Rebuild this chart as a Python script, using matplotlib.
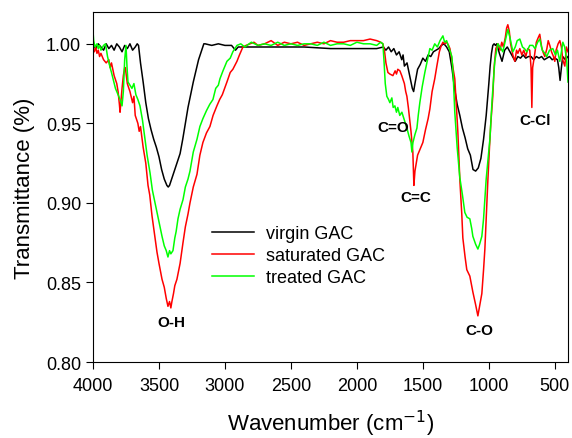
import numpy as np
import matplotlib.pyplot as plt

plt.rcParams["font.family"] = ["Liberation Sans", "DejaVu Sans"]
plt.rcParams["font.size"] = 13
plt.rcParams["xtick.direction"] = "out"
plt.rcParams["ytick.direction"] = "out"
plt.rcParams["xtick.major.size"] = 5
plt.rcParams["ytick.major.size"] = 5

# ---------------------------------------------------------------------------
# data
# ---------------------------------------------------------------------------

virgin_wn = [4000, 3980, 3960, 3940, 3920, 3900, 3880, 3860, 3840, 3820, 3800, 3780,
             3760, 3740, 3720, 3700, 3680, 3665, 3655, 3640, 3620, 3600, 3580, 3560,
             3540, 3520, 3500, 3480, 3460, 3440, 3430, 3420, 3400, 3380, 3360, 3340,
             3320, 3300, 3280, 3260, 3240, 3220, 3200, 3180, 3160, 3150, 3100, 3050,
             3000, 2950, 2920, 2900, 2880, 2800, 2600, 2400, 2200, 2000, 1900, 1850,
             1800, 1780, 1760, 1740, 1720, 1700, 1680, 1660, 1650, 1640, 1620, 1600,
             1580, 1570, 1560, 1540, 1520, 1500, 1480, 1460, 1440, 1420, 1400, 1380,
             1360, 1340, 1320, 1300, 1280, 1260, 1240, 1220, 1200, 1180, 1160, 1140,
             1120, 1100, 1080, 1060, 1040, 1020, 1000, 990, 980, 970, 960, 950, 940,
             920, 900, 880, 860, 840, 820, 800, 780, 760, 740, 720, 700, 680, 660, 640,
             620, 600, 580, 560, 540, 520, 500, 480, 470, 460, 450, 440, 420, 400]
virgin_t = [0.999, 0.997, 1.000, 0.998, 0.996, 1.000, 0.997, 0.999, 0.996, 1.000, 0.998, 0.995,
            0.999, 0.997, 1.000, 0.996, 0.998, 1.000, 0.999, 0.988, 0.976, 0.963, 0.953, 0.946,
            0.940, 0.935, 0.929, 0.921, 0.915, 0.911, 0.910, 0.911, 0.916, 0.921, 0.926, 0.931,
            0.940, 0.950, 0.960, 0.968, 0.976, 0.983, 0.990, 0.995, 1.000, 1.000, 0.999, 1.000,
            0.999, 0.999, 0.996, 0.998, 0.998, 0.998, 0.998, 0.998, 0.997, 0.997, 0.997, 0.997,
            0.998, 0.996, 0.998, 0.995, 0.997, 0.993, 0.995, 0.990, 0.993, 0.986, 0.988, 0.980,
            0.972, 0.970, 0.975, 0.984, 0.987, 0.991, 0.989, 0.993, 0.992, 0.995, 0.996, 0.997,
            0.999, 1.000, 0.998, 0.995, 0.985, 0.972, 0.962, 0.955, 0.947, 0.941, 0.934, 0.930,
            0.921, 0.920, 0.922, 0.928, 0.940, 0.955, 0.975, 0.986, 0.994, 0.999, 1.000, 0.999, 1.000,
            0.994, 0.989, 0.996, 0.998, 0.995, 0.992, 0.989, 0.992, 0.991, 0.993, 0.991, 0.992, 0.992, 0.990, 0.992,
            0.991, 0.992, 0.990, 0.991, 0.992, 0.990, 0.991, 0.990, 0.985, 0.977, 0.985, 0.992, 0.990, 0.992]

saturated_wn = [4000, 3990, 3980, 3970, 3960, 3950, 3940, 3920, 3900, 3880, 3870, 3860,
                3840, 3820, 3810, 3800, 3795, 3790, 3780, 3770, 3760, 3755, 3740, 3720,
                3700, 3690, 3680, 3660, 3650, 3640, 3620, 3600, 3583, 3570, 3553, 3530,
                3515, 3500, 3477, 3460, 3445, 3432, 3420, 3410, 3402, 3390, 3380, 3364,
                3340, 3318, 3300, 3280, 3265, 3240, 3212, 3190, 3167, 3140, 3114, 3090,
                3061, 3040, 3020, 2985, 2960, 2940, 2909, 2890, 2864, 2840, 2811, 2780,
                2750, 2700, 2650, 2600, 2550, 2500, 2450, 2400, 2350, 2300, 2250, 2200,
                2150, 2100, 2050, 2000, 1950, 1900, 1850, 1820, 1803, 1790, 1780, 1765,
                1750, 1727, 1710, 1700, 1690, 1674, 1660, 1652, 1640, 1630, 1621, 1610,
                1598, 1590, 1576, 1568, 1560, 1550, 1540, 1525, 1500, 1480, 1460, 1447,
                1430, 1410, 1394, 1375, 1360, 1348, 1335, 1320, 1305, 1295, 1280, 1270,
                1258, 1245, 1235, 1220, 1205, 1197, 1180, 1167, 1144, 1121, 1100, 1083,
                1070, 1053, 1040, 1030, 1020, 1008, 995, 985, 970, 960, 947, 930, 915,
                902, 890, 875, 865, 856, 845, 835, 818, 803, 790, 780, 765, 750, 735,
                720, 705, 690, 680, 674, 668, 655, 640, 625, 614, 600, 590, 576, 560,
                550, 538, 525, 510, 500, 490, 475, 462, 450, 440, 424, 412, 400]
saturated_t = [0.997, 0.995, 0.998, 0.994, 0.996, 0.992, 0.994, 0.990, 0.988, 0.990, 0.985, 0.988,
               0.980, 0.975, 0.970, 0.962, 0.957, 0.962, 0.972, 0.980, 0.985, 0.985, 0.975, 0.970,
               0.963, 0.967, 0.955, 0.950, 0.945, 0.948, 0.935, 0.925, 0.911, 0.905, 0.892, 0.878,
               0.869, 0.862, 0.852, 0.847, 0.840, 0.835, 0.838, 0.834, 0.838, 0.843, 0.848, 0.852,
               0.862, 0.875, 0.885, 0.893, 0.900, 0.910, 0.918, 0.930, 0.938, 0.944, 0.948, 0.955,
               0.961, 0.965, 0.968, 0.976, 0.982, 0.984, 0.989, 0.993, 0.998, 0.999, 1.000, 1.001,
               0.999, 1.000, 1.002, 0.999, 1.001, 1.000, 1.001, 0.999, 1.000, 1.001, 1.000, 1.002,
               1.001, 1.001, 1.002, 1.002, 1.002, 1.003, 1.002, 1.001, 1.000, 0.995, 0.988, 0.982,
               0.981, 0.980, 0.983, 0.981, 0.984, 0.983, 0.980, 0.978, 0.975, 0.970, 0.967, 0.960,
               0.951, 0.945, 0.932, 0.911, 0.920, 0.925, 0.930, 0.933, 0.938, 0.946, 0.953, 0.959,
               0.970, 0.978, 0.986, 0.995, 0.999, 1.001, 1.000, 1.001, 0.999, 0.997, 0.990, 0.984,
               0.978, 0.960, 0.945, 0.915, 0.893, 0.878, 0.866, 0.858, 0.854, 0.844, 0.836, 0.829,
               0.835, 0.843, 0.858, 0.871, 0.890, 0.913, 0.935, 0.950, 0.967, 0.985, 0.997, 1.000, 0.996,
               1.001, 0.998, 1.004, 1.010, 1.012, 1.008, 1.000, 0.993, 0.989, 0.996, 0.994, 0.997, 0.993, 0.996,
               0.992, 0.997, 0.996, 0.985, 0.960, 0.985, 0.992, 1.001, 1.004, 1.006, 0.998, 0.995, 0.992, 0.997,
               1.002, 0.999, 0.995, 0.992, 0.989, 0.996, 1.000, 1.002, 0.998, 0.990, 0.986, 0.998, 0.995]

treated_wn = [4000, 3995, 3985, 3970, 3960, 3950, 3940, 3920, 3905, 3890, 3870, 3860,
              3848, 3830, 3810, 3795, 3780, 3770, 3760, 3750, 3742, 3735, 3720, 3705,
              3690, 3675, 3660, 3644, 3625, 3606, 3590, 3568, 3550, 3530, 3515, 3500,
              3477, 3460, 3445, 3432, 3420, 3410, 3394, 3380, 3370, 3356, 3340, 3318,
              3300, 3280, 3265, 3240, 3212, 3190, 3167, 3140, 3115, 3091, 3070, 3050,
              3038, 3015, 2985, 2960, 2940, 2909, 2880, 2850, 2800, 2750, 2700, 2650,
              2600, 2550, 2500, 2450, 2400, 2350, 2300, 2250, 2200, 2150, 2100, 2050,
              2000, 1950, 1900, 1850, 1820, 1803, 1795, 1785, 1773, 1760, 1750, 1735,
              1725, 1712, 1700, 1690, 1675, 1659, 1640, 1621, 1605, 1590, 1583, 1575,
              1560, 1545, 1535, 1523, 1505, 1485, 1465, 1447, 1430, 1410, 1390, 1370,
              1355, 1348, 1335, 1320, 1300, 1280, 1270, 1258, 1240, 1220, 1200, 1182,
              1165, 1144, 1130, 1121, 1100, 1083, 1070, 1053, 1040, 1030, 1020, 1008,
              992, 975, 955, 932, 915, 894, 875, 856, 840, 818, 800, 785, 765, 745,
              730, 712, 690, 667, 650, 630, 614, 595, 575, 561, 540, 515, 495, 480,
              462, 450, 439, 425, 410, 400]
treated_t = [1.008, 1.002, 0.998, 1.000, 0.997, 0.999, 0.996, 0.999, 1.000, 0.992, 0.985, 0.982,
             0.978, 0.972, 0.968, 0.965, 0.961, 0.970, 0.990, 0.999, 0.985, 0.976, 0.974, 0.972,
             0.975, 0.968, 0.965, 0.961, 0.952, 0.940, 0.930, 0.919, 0.908, 0.900, 0.894, 0.888,
             0.879, 0.873, 0.870, 0.866, 0.870, 0.868, 0.870, 0.878, 0.882, 0.890, 0.896, 0.902,
             0.910, 0.915, 0.920, 0.932, 0.940, 0.948, 0.953, 0.958, 0.962, 0.965, 0.972, 0.974,
             0.978, 0.983, 0.989, 0.991, 0.995, 0.999, 1.000, 0.998, 1.001, 0.999, 1.000, 0.999,
             1.001, 0.999, 1.000, 0.999, 1.000, 1.000, 0.999, 1.001, 0.999, 1.000, 1.000, 0.999,
             1.001, 1.000, 1.000, 0.999, 1.001, 1.000, 0.990, 0.975, 0.967, 0.965, 0.963, 0.966,
             0.960, 0.961, 0.957, 0.960, 0.955, 0.957, 0.952, 0.947, 0.942, 0.938, 0.932, 0.938,
             0.943, 0.947, 0.955, 0.963, 0.973, 0.982, 0.990, 0.997, 0.996, 1.000, 0.998, 1.002,
             1.004, 1.005, 1.001, 1.002, 0.997, 0.992, 0.980, 0.957, 0.935, 0.916, 0.905, 0.894,
             0.891, 0.890, 0.884, 0.879, 0.874, 0.871, 0.874, 0.879, 0.890, 0.903, 0.915, 0.926,
             0.940, 0.965, 0.989, 1.000, 0.998, 0.995, 1.002, 1.009, 1.004, 0.995, 0.998, 1.002, 1.003, 0.998,
             0.997, 0.995, 0.999, 0.999, 0.997, 1.001, 1.003, 0.996, 0.994, 0.992, 0.996, 0.997, 0.993, 0.996,
             0.989, 0.995, 1.001, 0.998, 0.990, 0.976]

series_labels = ["virgin GAC", "saturated GAC", "treated GAC"]
series_colors = ["black", "#ff0000", "#00ff00"]

# band labels: (text, wavenumber, transmittance)
band_labels = [("O-H", 3409, 0.825), ("C=O", 1727, 0.948), ("C=C", 1553, 0.904),
               ("C-O", 1068, 0.820), ("C-Cl", 652, 0.952)]

x_ticks = [4000, 3500, 3000, 2500, 2000, 1500, 1000, 500]
y_ticks = [0.80, 0.85, 0.90, 0.95, 1.00]

# ---------------------------------------------------------------------------
# plot
# ---------------------------------------------------------------------------

fig = plt.figure(figsize=(5.72, 4.39), dpi=100)
ax = fig.add_axes([0.1626, 0.1731, 0.8304, 0.7973])

ax.plot(virgin_wn, virgin_t, color=series_colors[0], linewidth=1.1, label=series_labels[0])
ax.plot(saturated_wn, saturated_t, color=series_colors[1], linewidth=1.1, label=series_labels[1])
ax.plot(treated_wn, treated_t, color=series_colors[2], linewidth=1.1, label=series_labels[2])

for text, wn, t in band_labels:
    ax.text(wn, t, text, fontsize=11, fontweight="bold", ha="center", va="center")

ax.set_xlim(4000, 400)
ax.set_ylim(0.80, 1.02)
ax.set_xticks(x_ticks)
ax.set_yticks(y_ticks)
ax.set_yticklabels(["%.2f" % v for v in y_ticks])
ax.tick_params(top=False, right=False)
ax.tick_params(axis="x", pad=6)

ax.set_xlabel("Wavenumber (cm$^{-1}$)", fontsize=16, labelpad=10)
ax.set_ylabel("Transmittance (%)", fontsize=16, labelpad=8)

ax.legend(loc="upper left", bbox_to_anchor=(212 / 572, 1 - 226 / 439),
          bbox_transform=fig.transFigure, frameon=False, fontsize=13,
          borderpad=0, borderaxespad=0, handlelength=2.3, handletextpad=0.7,
          labelspacing=0.28)

plt.savefig("out.png", dpi=100)
